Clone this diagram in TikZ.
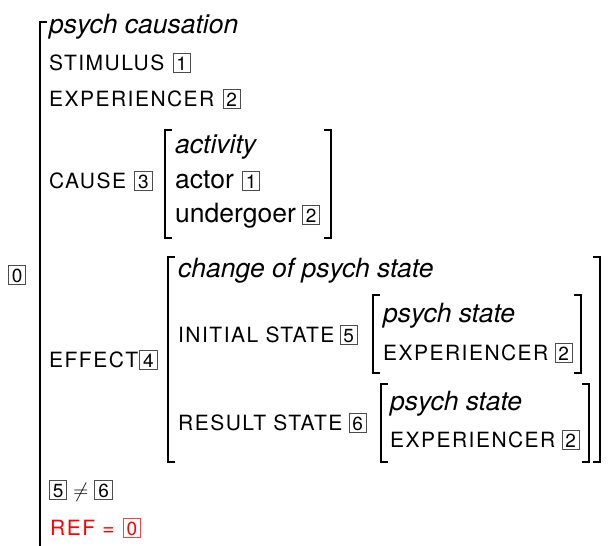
\documentclass[tikz,border=0pt]{standalone}
\usepackage{fontspec}
\setmainfont{TeX Gyre Heros}
\newfontfamily\featfont[LetterSpace=7]{TeX Gyre Heros}
\begin{document}
\begin{tikzpicture}[x=1pt,y=-1pt,
  type/.style={anchor=base west, inner sep=0pt, font=\fontsize{26.5}{30}\selectfont\itshape},
  role/.style={anchor=base west, inner sep=0pt, font=\fontsize{26.5}{30}\selectfont},
  feat/.style={anchor=base west, inner sep=0pt, font=\featfont\fontsize{21}{25}\selectfont},
  tag/.style={anchor=base west, draw=black!70, line width=0.8pt, inner xsep=3.4pt,
              inner ysep=2.8pt, text height=13.4pt, text depth=0pt,
              font=\fontsize{19}{22}\selectfont},
  brk/.style={line width=1.6pt},
  outerbrk/.style={line width=2pt}
]
\useasboundingbox (0,0) rectangle (614,546);

% outer structure: only the left bracket is visible
\draw[outerbrk] (47,22) -| (40,548);
\node[tag] (root) at (8,282) {0};

\node[type] (pc) at (49,34) {psych causation};
\node[feat] (stim) at (49,70) {STIMULUS};
\node[tag] (stimtag) at ([xshift=8pt]stim.base east) {1};
\node[feat] (exp) at (49,106) {EXPERIENCER};
\node[tag] (exptag) at ([xshift=8pt]exp.base east) {2};

% CAUSE value
\node[feat] (cause) at (49,188) {CAUSE};
\node[tag] (causetag) at ([xshift=8pt]cause.base east) {3};
\draw[brk] (172,130) -| (165,238) -- (172,238);
\draw[brk] (324,130) -| (331,238) -- (324,238);
\node[type] (act) at (175,153) {activity};
\node[role] (actor) at (175,188) {actor};
\node[tag] (actortag) at ([xshift=8pt]actor.base east) {1};
\node[role] (und) at (175,222) {undergoer};
\node[tag] (undtag) at ([xshift=6pt]und.base east) {2};

% EFFECT value
\node[feat] (eff) at (49,367) {EFFECT};
\node[tag] (efftag) at ([xshift=1pt]eff.base east) {4};
\draw[brk] (175,257) -| (168,462) -- (175,462);
\draw[brk] (593,257) -| (600,462) -- (593,462);
\node[type] (chg) at (178,277) {change of psych state};

\node[feat] (init) at (178,342) {INITIAL STATE};
\node[tag] (inittag) at ([xshift=5pt]init.base east) {5};
\draw[brk] (380,295) -| (373,373) -- (380,373);
\draw[brk] (574,295) -| (581,373) -- (574,373);
\node[type] (ps1) at (383,322) {psych state};
\node[feat] (exp1) at (383,360) {EXPERIENCER};
\node[tag] (exp1tag) at ([xshift=6pt]exp1.base east) {2};

\node[feat] (res) at (178,430) {RESULT STATE};
\node[tag] (restag) at ([xshift=6pt]res.base east) {6};
\draw[brk] (388,384) -| (381,462) -- (388,462);
\draw[brk] (582,384) -| (589,462) -- (582,462);
\node[type] (ps2) at (390,410) {psych state};
\node[feat] (exp2) at (390,447) {EXPERIENCER};
\node[tag] (exp2tag) at ([xshift=6pt]exp2.base east) {2};

% constraints
\node[tag] (neqa) at (49,497) {5};
\node[anchor=base west, inner sep=0pt, font=\fontsize{21}{25}\selectfont] (neq)
  at ([xshift=6pt]neqa.base east) {$\neq$};
\node[tag] (neqb) at ([xshift=6pt]neq.base east) {6};

\node[feat, text=red] (ref) at (50,535) {REF =};
\node[tag, draw=red!75, text=red] (reftag) at ([xshift=8pt]ref.base east) {0};
\end{tikzpicture}
\end{document}
